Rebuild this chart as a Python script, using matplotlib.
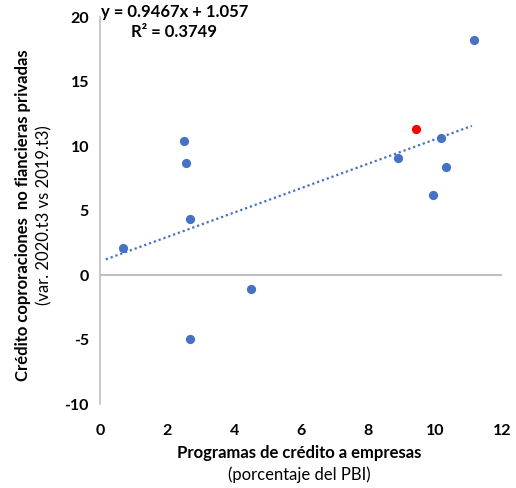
import matplotlib
matplotlib.use('Agg')
import matplotlib.pyplot as plt
import numpy as np

plt.rcParams['font.family'] = ['Lato', 'DejaVu Sans']
plt.rcParams['axes.unicode_minus'] = False

# credit programs (% of GDP) vs credit growth to non-financial corporations
programas = [0.68, 2.49, 2.56, 2.68, 2.68, 4.51, 8.89, 10.17, 10.33, 9.94, 11.16]
credito = [2.1, 10.4, 8.7, 4.36, -4.96, -1.1, 9.05, 10.6, 8.4, 6.2, 18.2]
destacado_x = [9.43]
destacado_y = [11.3]

pendiente = 0.9467
ordenada = 1.057
r2 = 0.3749

xticks = [0, 2, 4, 6, 8, 10, 12]
yticks = [-10, -5, 0, 5, 10, 15, 20]

fig = plt.figure(figsize=(5.16, 4.88), dpi=100)
ax = fig.add_axes([0.194, 0.172, 0.779, 0.793])

ax.scatter(programas, credito, s=44, color='#4472C4', zorder=3, linewidths=0)
ax.scatter(destacado_x, destacado_y, s=44, color='#FF0000', zorder=3, linewidths=0)

xs = np.array([0.17, max(programas) - 0.06])
ax.plot(xs, pendiente * xs + ordenada, linestyle=(0, (1, 1.3)), color='#4472C4',
        linewidth=1.6, zorder=2)

ax.set_xlim(0, 12)
ax.set_ylim(-10, 20)
ax.set_xticks(xticks)
ax.set_yticks(yticks)
ax.tick_params(length=0, labelsize=11.5, colors='black', pad=8)
for lab in ax.get_xticklabels() + ax.get_yticklabels():
    lab.set_fontweight('bold')
ax.tick_params(axis='x', pad=14)

for s in ['top', 'right', 'bottom']:
    ax.spines[s].set_visible(False)
ax.spines['left'].set_color('#BFBFBF')
ax.spines['left'].set_linewidth(1.2)
ax.axhline(0, color='#BFBFBF', linewidth=1.5, zorder=1)

# axis titles: bold first line, plain second line
fig.text(0.58, 0.072, 'Programas de crédito a empresas', ha='center', va='center',
         fontsize=12, fontweight='bold')
fig.text(0.58, 0.027, '(porcentaje del PBI)', ha='center', va='center', fontsize=12)
fig.text(0.045, 0.56, 'Crédito coproraciones  no fiancieras privadas', ha='center',
         va='center', rotation=90, fontsize=12, fontweight='bold')
fig.text(0.086, 0.56, '(var. 2020.t3 vs 2019.t3)', ha='center', va='center',
         rotation=90, fontsize=12)

fig.text(0.196, 0.975, 'y = %.4fx + %.3f' % (pendiente, ordenada), ha='left',
         va='center', fontsize=12, fontweight='bold')
fig.text(0.253, 0.935, 'R² = %.4f' % r2, ha='left', va='center', fontsize=12,
         fontweight='bold')

fig.savefig('out.png', dpi=100)
